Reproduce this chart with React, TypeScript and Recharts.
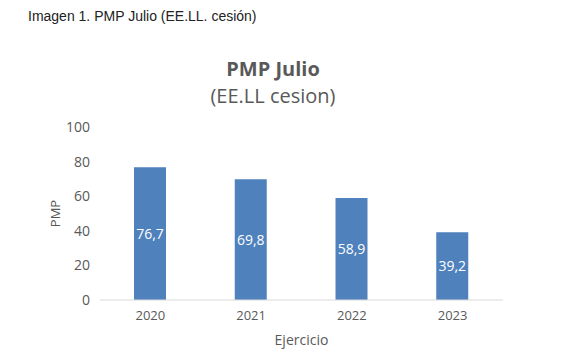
import { BarChart, Bar, XAxis, YAxis, LabelList } from "recharts";

const years = ["2020", "2021", "2022", "2023"];
const pmp = [76.7, 69.8, 58.9, 39.2];
const yTicks = [0, 20, 40, 60, 80, 100];

const data = years.map((year, i) => ({ year, pmp: pmp[i] }));

const fmt = (v: any) => String(v).replace(".", ",");

export default function App() {
  return (
    <div style={{ position: "relative", width: 571, height: 360, margin: -8, background: "#fff" }}>
      <div
        style={{
          position: "absolute",
          left: 28,
          top: 8,
          fontFamily: "'Liberation Sans', Arial, sans-serif",
          fontSize: 14,
          color: "#222",
        }}
      >
        Imagen 1. PMP Julio (EE.LL. cesión)
      </div>
      <div
        style={{
          position: "absolute",
          left: 0,
          width: 546,
          top: 55,
          textAlign: "center",
          fontFamily: "'Open Sans', sans-serif",
          color: "#595959",
          lineHeight: "27px",
        }}
      >
        <div style={{ fontSize: 20, fontWeight: 700 }}>PMP Julio</div>
        <div style={{ fontSize: 20 }}>(EE.LL cesion)</div>
      </div>
      <div style={{ position: "absolute", left: 0, top: 0 }}>
        <BarChart
          width={571}
          height={360}
          data={data}
          margin={{ top: 127, right: 68, bottom: 15, left: 40 }}
          style={{ fontFamily: "'Open Sans', sans-serif" }}
        >
          <XAxis
            dataKey="year"
            height={45}
            tickLine={false}
            tickSize={0}
            tickMargin={11}
            axisLine={{ stroke: "#d9d9d9" }}
            tick={{ fill: "#595959", fontSize: 13 }}
            label={{ value: "Ejercicio", position: "insideBottom", offset: 0, fill: "#595959", fontSize: 14 }}
          />
          <YAxis
            width={60}
            domain={[0, 100]}
            ticks={yTicks}
            axisLine={false}
            tickLine={false}
            tickMargin={4}
            tick={{ fill: "#595959", fontSize: 14 }}
            label={{
              value: "PMP",
              angle: -90,
              position: "insideLeft",
              offset: 15,
              textAnchor: "middle",
              fill: "#595959",
              fontSize: 13,
            }}
          />
          <Bar dataKey="pmp" fill="#4f81bd" barSize={32} isAnimationActive={false}>
            <LabelList dataKey="pmp" position="center" fill="#fff" fontSize={14} formatter={fmt} />
          </Bar>
        </BarChart>
      </div>
    </div>
  );
}
